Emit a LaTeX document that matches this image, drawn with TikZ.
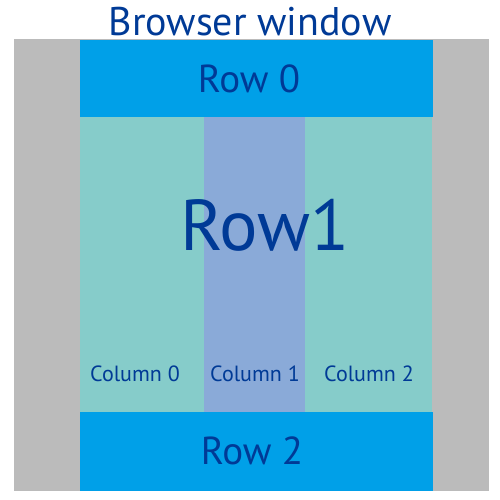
\documentclass[tikz,border=0pt]{standalone}
\usepackage{fontspec}
\setmainfont{PT Sans}
\usepackage{tikz}
\usetikzlibrary{positioning}
\definecolor{bwgray}{RGB}{187,187,187}
\definecolor{bwrow}{RGB}{0,160,232}
\definecolor{bwcol}{RGB}{134,204,202}
\definecolor{bwmid}{RGB}{138,170,216}
\definecolor{bwtext}{RGB}{0,58,150}

\begin{document}
\begin{tikzpicture}[x=1pt, y=-1pt,
  area/.style={rectangle, inner sep=0pt, outer sep=0pt, anchor=north west},
  rowbox/.style={area, fill=bwrow},
  colbox/.style={area, fill=bwcol},
  label/.style={text=bwtext, inner sep=0pt}
]
\useasboundingbox (0,0) rectangle (500,500);
% window and grid areas
\node[area, fill=bwgray, minimum width=475pt, minimum height=452pt] (win) at (14,39) {};
\node[rowbox, minimum width=353pt, minimum height=77pt] (row0) at (80,40) {};
\node[colbox, minimum width=124pt, minimum height=295pt] (col0) at (80,117) {};
\node[area, fill=bwmid, minimum width=101pt, minimum height=295pt] (col1) at (204,117) {};
\node[colbox, minimum width=127pt, minimum height=295pt] (col2) at (305,117) {};
\node[rowbox, minimum width=353pt, minimum height=79pt] (row2) at (80,412) {};
% labels
\node[label, font=\fontsize{40}{40}\selectfont] (title) at (250,22) {Browser window};
\node[label, font=\fontsize{39}{39}\selectfont] (t0) at (249,79) {Row 0};
\node[label, font=\fontsize{72}{72}\selectfont] (t1) at (265,225) {Row1};
\node[label, font=\fontsize{22}{22}\selectfont] (c0) at (135,374) {Column 0};
\node[label, font=\fontsize{22}{22}\selectfont] (c1) at (255,374) {Column 1};
\node[label, font=\fontsize{22}{22}\selectfont] (c2) at (369,374) {Column 2};
\node[label, font=\fontsize{39}{39}\selectfont] (t2) at (252,451) {Row 2};
\end{tikzpicture}
\end{document}
